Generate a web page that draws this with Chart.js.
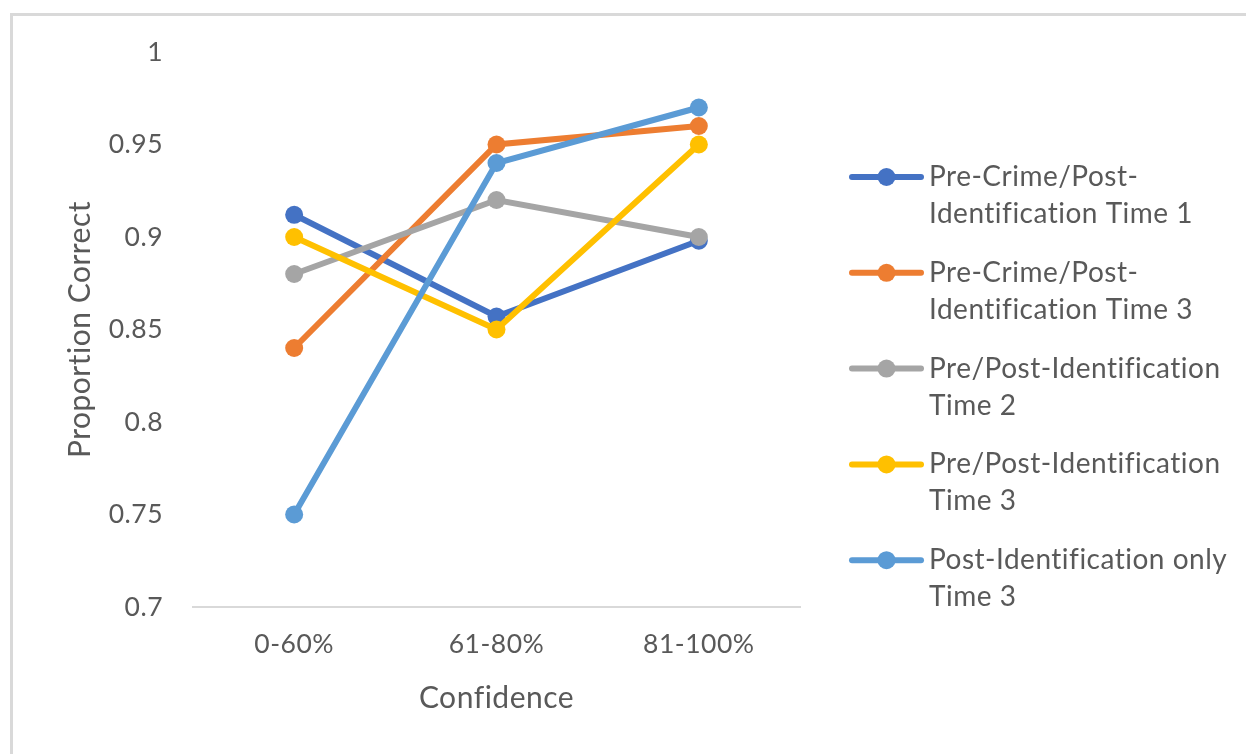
<!DOCTYPE html>
<html>
<head>
<meta charset="utf-8">
<script src="https://cdn.jsdelivr.net/npm/chart.js@4.4.1/dist/chart.umd.min.js"></script>
<style>
  html, body { margin: 0; padding: 0; background: #ffffff; overflow: hidden; }
  #frame {
    position: absolute; left: 10px; top: 13px; width: 2000px; height: 2000px;
    border-left: 3px solid #d9d9d9; border-top: 3px solid #d9d9d9;
  }
  #wrap { position: absolute; left: 0; top: 0; width: 1246px; height: 754px; }
</style>
</head>
<body>
<div id="frame"></div>
<div id="wrap"><canvas id="chart" width="1246" height="754"></canvas></div>
<script>
// Confidence bins on the x axis
const categories = ['0-60%', '61-80%', '81-100%'];

// Proportion correct per confidence bin
const preCrimeT1 = [0.912, 0.857, 0.898];
const preCrimeT3 = [0.84, 0.95, 0.96];
const prePostT2 = [0.88, 0.92, 0.90];
const prePostT3 = [0.90, 0.85, 0.95];
const postOnlyT3 = [0.75, 0.94, 0.97];

// Legend labels, split into their two printed lines
const seriesLabels = [
  ['Pre-Crime/Post-', 'Identification Time 1'],
  ['Pre-Crime/Post-', 'Identification Time 3'],
  ['Pre/Post-Identification', 'Time 2'],
  ['Pre/Post-Identification', 'Time 3'],
  ['Post-Identification only', 'Time 3']
];
const seriesColors = ['#4472C4', '#ED7D31', '#A5A5A5', '#FFC000', '#5B9BD5'];
const seriesValues = [preCrimeT1, preCrimeT3, prePostT2, prePostT3, postOnlyT3];

// Y axis range and step
const yMin = 0.7, yMax = 1.0, yStep = 0.05;

const FONT = 'Lato, Carlito, Calibri, "Open Sans", sans-serif';
const TEXT = '#595959';

const datasets = seriesValues.map((vals, i) => ({
  label: seriesLabels[i].join(' '),
  data: vals,
  borderColor: seriesColors[i],
  backgroundColor: seriesColors[i],
  pointBackgroundColor: seriesColors[i],
  pointBorderColor: seriesColors[i],
  borderWidth: 6,
  pointRadius: 9,
  pointBorderWidth: 0,
  pointHoverRadius: 9,
  tension: 0,
  fill: false,
  order: seriesValues.length - 1 - i
}));

// Slight tracking for all chart text (also keeps "fi" as two glyphs)
const textTracking = {
  id: 'textTracking',
  beforeDraw(chart) { chart.ctx.letterSpacing = '0.5px'; }
};

// Two-line legend on the right side
const sideLegend = {
  id: 'sideLegend',
  afterDraw(chart) {
    const ctx = chart.ctx;
    ctx.save();
    ctx.letterSpacing = '0.5px';
    ctx.font = '28px ' + FONT;
    ctx.textBaseline = 'middle';
    ctx.textAlign = 'left';
    chart.data.datasets.forEach((ds, i) => {
      const y = 177 + i * 95.8;
      ctx.strokeStyle = ds.borderColor;
      ctx.lineWidth = 6;
      ctx.lineCap = 'round';
      ctx.beginPath();
      ctx.moveTo(852, y);
      ctx.lineTo(921, y);
      ctx.stroke();
      ctx.fillStyle = ds.borderColor;
      ctx.beginPath();
      ctx.arc(886.5, y, 9, 0, Math.PI * 2);
      ctx.fill();
      ctx.fillStyle = TEXT;
      seriesLabels[i].forEach((line, k) => {
        ctx.fillText(line, 929, y + k * 37);
      });
    });
    ctx.restore();
  }
};

new Chart(document.getElementById('chart'), {
  type: 'line',
  data: { labels: categories, datasets },
  plugins: [textTracking, sideLegend],
  options: {
    responsive: false,
    animation: false,
    events: [],
    layout: { padding: { left: 0, top: 52, right: 446, bottom: 0 } },
    plugins: { legend: { display: false }, tooltip: { enabled: false } },
    scales: {
      x: {
        offset: true,
        grid: { display: false, drawTicks: false },
        border: { display: true, color: '#d9d9d9', width: 2 },
        ticks: { color: TEXT, font: { family: FONT, size: 26.5 }, padding: 22 },
        title: { display: true, text: 'Confidence', color: TEXT,
                 font: { family: FONT, size: 30 }, padding: { top: 0, bottom: 38 } },
        afterFit(scale) { scale.height = 147; }
      },
      y: {
        min: yMin, max: yMax,
        grid: { display: false, drawTicks: false },
        border: { display: false },
        ticks: { stepSize: yStep, color: TEXT, font: { family: FONT, size: 26.5 }, padding: 30,
                 callback: v => String(Math.round(v * 100) / 100) },
        title: { display: true, text: 'Proportion Correct', color: TEXT,
                 font: { family: FONT, size: 30 }, padding: { top: 62, bottom: 0 } },
        afterFit(scale) { scale.width = 193; }
      }
    }
  }
});
</script>
</body>
</html>
